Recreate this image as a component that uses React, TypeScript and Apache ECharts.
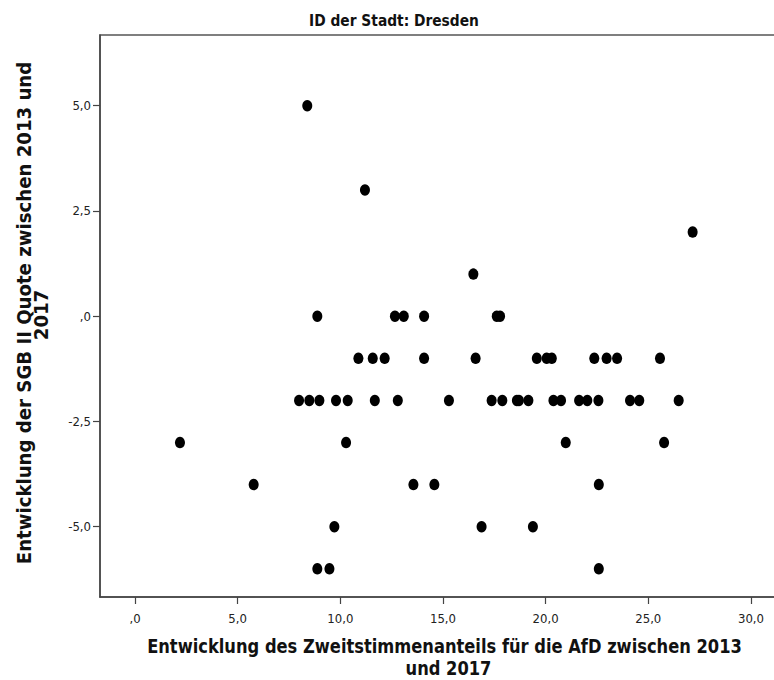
import React, { useEffect, useRef } from "react";
import * as echarts from "echarts";

// Y levels (Entwicklung der SGB II Quote) and the AfD change values observed at each level
const yLevel5 = [8.39];
const yLevel3 = [11.2];
const yLevel2 = [27.16];
const yLevel1 = [16.48];
const yLevel0 = [8.88, 12.66, 13.09, 14.08, 17.62, 17.78];
const yLevelMinus1 = [10.88, 11.58, 12.16, 14.08, 16.59, 19.57, 20.05, 20.3, 22.37, 22.97, 23.48, 25.57];
const yLevelMinus2 = [7.99, 8.49, 8.98, 9.79, 10.36, 11.68, 12.8, 15.29, 17.37, 17.89, 18.6, 18.7, 19.16, 20.38, 20.75, 21.63, 22.03, 22.57, 24.11, 24.56, 26.48];
const yLevelMinus3 = [2.19, 10.28, 20.98, 25.77];
const yLevelMinus4 = [5.78, 13.56, 14.58, 22.59];
const yLevelMinus5 = [9.71, 16.88, 19.38];
const yLevelMinus6 = [8.88, 9.47, 22.59];

const levelValues = [5, 3, 2, 1, 0, -1, -2, -3, -4, -5, -6];
const levelGroups = [yLevel5, yLevel3, yLevel2, yLevel1, yLevel0, yLevelMinus1, yLevelMinus2, yLevelMinus3, yLevelMinus4, yLevelMinus5, yLevelMinus6];

const xTickValues = [0, 5, 10, 15, 20, 25, 30];
const yTickValues = [-5, -2.5, 0, 2.5, 5];

const TITLE = "ID der Stadt: Dresden";
const X_TITLE_1 = "Entwicklung des Zweitstimmenanteils für die AfD zwischen 2013";
const X_TITLE_2 = "und 2017";
const Y_TITLE_1 = "Entwicklung der SGB II Quote zwischen 2013 und";
const Y_TITLE_2 = "2017";

const FAMILY = '"DejaVu Sans", "Noto Sans", sans-serif';

function fmt(v: number): string {
  if (Math.abs(v) < 1e-9) return ",0";
  return v.toFixed(1).replace(".", ",");
}

function measure(text: string, size: number): number {
  const ctx = document.createElement("canvas").getContext("2d");
  if (!ctx) return text.length * size * 0.6;
  ctx.font = `bold ${size}px ${FAMILY}`;
  return ctx.measureText(text).width;
}

export default function App() {
  const ref = useRef<HTMLDivElement>(null);

  useEffect(() => {
    if (!ref.current) return;
    const chart = echarts.init(ref.current, undefined, { renderer: "svg" });

    const data: number[][] = [];
    levelGroups.forEach((xs, i) => {
      xs.forEach((x) => data.push([x, levelValues[i]]));
    });

    const titleSize = 15;
    const titleScale = 170 / measure(TITLE, titleSize);
    const axSize = 20;
    const xScale = 595 / measure(X_TITLE_1, axSize);
    const yScale = 503 / measure(Y_TITLE_1, axSize);

    const textStyle = (text: string, size: number) => ({
      text,
      fontSize: size,
      fontWeight: "bold",
      fontFamily: FAMILY,
      fill: "#111",
      align: "center",
      verticalAlign: "middle",
    });

    chart.setOption({
      animation: false,
      backgroundColor: "#fff",
      grid: {
        left: 100,
        top: 35,
        right: -2,
        bottom: 83,
        show: true,
        borderColor: "#555",
        borderWidth: 1.5,
        outerBoundsMode: "none",
      },
      xAxis: {
        type: "value",
        min: -1.705,
        max: 31.22,
        splitLine: { show: false },
        axisLine: { onZero: false, lineStyle: { color: "#444", width: 1.5 } },
        axisTick: { show: true, length: 7, customValues: xTickValues, lineStyle: { color: "#444", width: 1.2 } },
        axisLabel: {
          customValues: xTickValues,
          formatter: (v: number) => fmt(v),
          margin: 15,
          color: "#222",
          fontSize: 13,
          fontFamily: '"DejaVu Sans Condensed", "DejaVu Sans", sans-serif',
        },
      },
      yAxis: {
        type: "value",
        min: -6.67,
        max: 6.68,
        splitLine: { show: false },
        axisLine: { onZero: false, lineStyle: { color: "#444", width: 1.5 } },
        axisTick: { show: true, length: 7, customValues: yTickValues, lineStyle: { color: "#444", width: 1.2 } },
        axisLabel: {
          customValues: yTickValues,
          formatter: (v: number) => fmt(v),
          margin: 9,
          color: "#222",
          fontSize: 13,
          fontFamily: '"DejaVu Sans Condensed", "DejaVu Sans", sans-serif',
        },
      },
      graphic: [
        { type: "text", x: 394, y: 21, scaleX: titleScale, style: textStyle(TITLE, titleSize) },
        { type: "text", x: 444.5, y: 646, scaleX: xScale, style: textStyle(X_TITLE_1, axSize) },
        { type: "text", x: 448.5, y: 668, scaleX: xScale, style: textStyle(X_TITLE_2, axSize) },
        { type: "text", x: 24, y: 313, rotation: Math.PI / 2, scaleX: yScale, style: textStyle(Y_TITLE_1, axSize) },
        { type: "text", x: 41, y: 315, rotation: Math.PI / 2, scaleX: yScale, style: textStyle(Y_TITLE_2, axSize) },
      ],
      series: [
        {
          type: "scatter",
          data,
          symbol: "circle",
          symbolSize: [10, 11.5],
          itemStyle: { color: "#000", opacity: 1 },
        },
      ],
    });

    return () => chart.dispose();
  }, []);

  return (
    <div
      ref={ref}
      style={{ position: "absolute", left: 0, top: 0, width: 774, height: 680 }}
    />
  );
}
